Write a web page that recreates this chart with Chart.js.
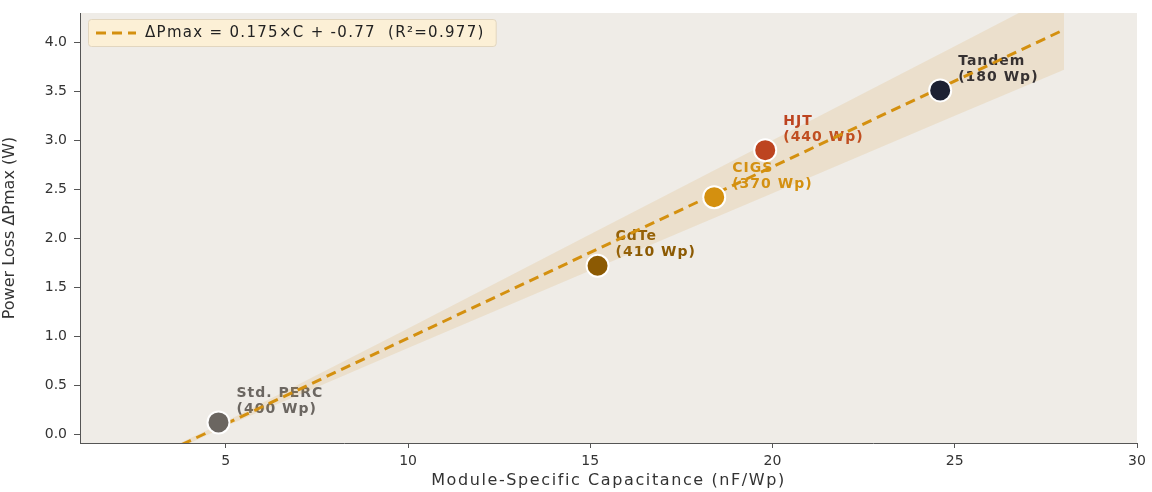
<!DOCTYPE html>
<html>
<head>
<meta charset="utf-8">
<script src="https://cdn.jsdelivr.net/npm/chart.js@4.4.1/dist/chart.umd.min.js"></script>
<style>
  body { margin: 0; background: #fff; }
  #wrap { width: 1152px; height: 492px; }
</style>
</head>
<body>
<div id="wrap"><canvas id="myChart"></canvas></div>
<script>
const ctx = document.getElementById('myChart')

// module types and their measured points
const modules = ['Std. PERC', 'CdTe', 'CIGS', 'HJT', 'Tandem']
const ratings = ['400 Wp', '410 Wp', '370 Wp', '440 Wp', '180 Wp']
const capacitance = [4.8, 15.2, 18.4, 19.8, 24.6]
const loss = [0.12, 1.72, 2.42, 2.90, 3.51]
const colors = ['#6b6661', '#8c5a03', '#d4900f', '#bd4420', '#1d2133']

// fit line end points and shaded band
const fitX = [3, 28]
const fitY = [-0.245, 4.13]
const bandX = [3, 5, 10, 15, 20, 25, 28]
const bandLow = [-0.27, 0.08, 0.88, 1.67, 2.46, 3.25, 3.72]
const bandHigh = [-0.22, 0.13, 1.08, 2.04, 3.00, 3.96, 4.54]

const xTicks = [5, 10, 15, 20, 25, 30]
const yTicks = [0, 0.5, 1.0, 1.5, 2.0, 2.5, 3.0, 3.5, 4.0]
const fitLabel = '\u0394Pmax = 0.175\u00d7C + -0.77  (R\u00b2=0.977)'
const xTitle = 'Module-Specific Capacitance (nF/Wp)'
const lineColor = '#d4900f'

Chart.defaults.font.family = '"DejaVu Sans", sans-serif'

function toXY(xs, ys) {
  var out = []
  for (var i = 0; i < xs.length; i++) out.push({x: xs[i], y: ys[i]})
  return out
}

const bgPlugin = {
  id: 'plotBg',
  beforeDraw(chart) {
    const a = chart.chartArea
    const c = chart.ctx
    c.save()
    c.fillStyle = '#efece7'
    c.fillRect(a.left, a.top, a.right - a.left, a.bottom - a.top)
    c.restore()
  }
}

const labelPlugin = {
  id: 'pointLabels',
  beforeDatasetsDraw(chart) {
    const c = chart.ctx
    const sx = chart.scales.x, sy = chart.scales.y
    c.save()
    c.font = 'bold 14px "DejaVu Sans"'
    c.letterSpacing = '1px'
    c.textBaseline = 'middle'
    c.textAlign = 'left'
    for (var i = 0; i < modules.length; i++) {
      var px = sx.getPixelForValue(capacitance[i]) + 18
      var py = sy.getPixelForValue(loss[i])
      c.fillStyle = colors[i]
      c.fillText(modules[i], px, py - 29)
      c.fillText('(' + ratings[i] + ')', px, py - 13)
    }
    c.restore()
  },
  afterDraw(chart) {
    const c = chart.ctx
    const a = chart.chartArea
    c.save()
    // x axis title
    c.font = '16px "DejaVu Sans"'
    c.letterSpacing = '1.6px'
    c.fillStyle = '#333'
    c.textAlign = 'center'
    c.textBaseline = 'middle'
    c.fillText(xTitle, (a.left + a.right) / 2, 481)
    // legend box inside the plot, upper left
    var bx = a.left + 8, by = a.top + 6
    c.textAlign = 'left'
    c.font = '15px "DejaVu Sans"'
    c.letterSpacing = '1.3px'
    var w = c.measureText(fitLabel).width + 68
    c.fillStyle = '#fcf0d6'
    c.strokeStyle = '#e2d6bf'
    c.lineWidth = 1
    c.beginPath()
    c.roundRect(bx + 0.5, by + 0.5, w, 27, 3)
    c.fill()
    c.stroke()
    c.strokeStyle = lineColor
    c.lineWidth = 3
    c.setLineDash([10, 6])
    c.beginPath()
    c.moveTo(bx + 8, by + 14)
    c.lineTo(bx + 48, by + 14)
    c.stroke()
    c.setLineDash([])
    c.fillStyle = '#222'
    c.fillText(fitLabel, bx + 57, by + 14.5)
    c.restore()
  }
}

new Chart(ctx, {
  type: 'scatter',
  data: {
    datasets: [
      {
        label: 'points',
        data: toXY(capacitance, loss),
        pointRadius: 11,
        pointHoverRadius: 11,
        pointBackgroundColor: colors,
        pointBorderColor: '#ffffff',
        pointBorderWidth: 2,
        showLine: false,
        order: 0
      },
      {
        label: 'fit',
        data: toXY(fitX, fitY),
        showLine: true,
        borderColor: lineColor,
        borderWidth: 3,
        borderDash: [10, 6],
        pointRadius: 0,
        clip: 0,
        order: 1
      },
      {
        label: 'low',
        data: toXY(bandX, bandLow),
        showLine: true,
        borderWidth: 0,
        pointRadius: 0,
        clip: 0,
        order: 3
      },
      {
        label: 'high',
        data: toXY(bandX, bandHigh),
        showLine: true,
        borderWidth: 0,
        pointRadius: 0,
        fill: '-1',
        backgroundColor: 'rgba(214, 150, 40, 0.14)',
        clip: 0,
        order: 2
      }
    ]
  },
  plugins: [bgPlugin, labelPlugin],
  options: {
    animation: false,
    responsive: true,
    maintainAspectRatio: false,
    layout: { padding: { top: 10, right: 15, left: 0, bottom: 0 } },
    plugins: {
      legend: { display: false },
      tooltip: { enabled: false },
      filler: { propagate: false }
    },
    scales: {
      x: {
        type: 'linear',
        min: 1,
        max: 30,
        afterBuildTicks: function(s) { s.ticks = xTicks.map(v => ({value: v})) },
        afterFit: function(s) { s.height = 49 },
        grid: { drawOnChartArea: false, tickLength: 5, color: '#555' },
        border: { color: '#555', width: 1 },
        ticks: { font: { size: 14 }, color: '#333', padding: 5, callback: v => String(v) }
      },
      y: {
        type: 'linear',
        min: -0.09,
        max: 4.3,
        afterBuildTicks: function(s) { s.ticks = yTicks.map(v => ({value: v})) },
        afterFit: function(s) {
          s.width = 80
          s.paddingTop = 0
          s.paddingBottom = 0
        },
        grid: { drawOnChartArea: false, tickLength: 6, color: '#555' },
        border: { color: '#555', width: 1 },
        ticks: { font: { size: 14 }, color: '#333', padding: 7, callback: v => v.toFixed(1) },
        title: { display: true, text: 'Power Loss \u0394Pmax (W)', font: { size: 16 }, color: '#333', padding: 0 }
      }
    }
  }
})
</script>
</body>
</html>
